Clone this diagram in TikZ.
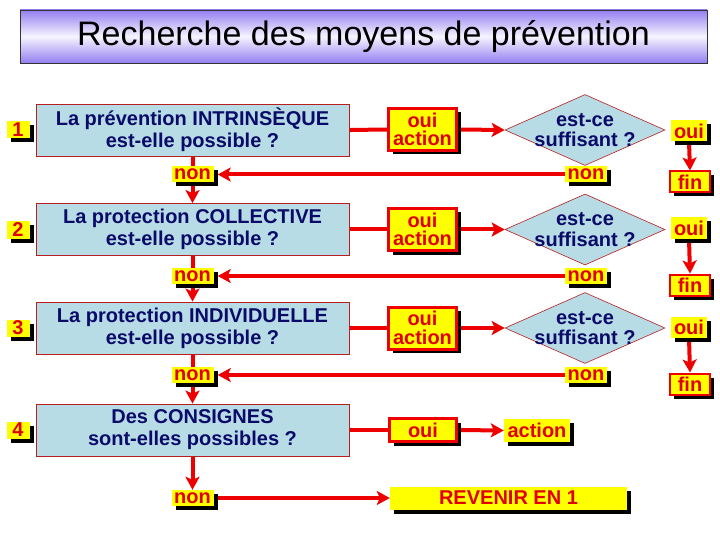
\documentclass[tikz,border=0pt]{standalone}
\usepackage{fontspec}
\setmainfont{Liberation Sans}
\usetikzlibrary{shapes.geometric,shadows,arrows.meta,backgrounds}
\definecolor{lred}{RGB}{238,0,0}
\definecolor{labred}{RGB}{225,0,0}
\definecolor{yel}{RGB}{255,255,0}
\definecolor{lblue}{RGB}{184,220,230}
\definecolor{navy}{RGB}{10,10,105}
\definecolor{boxred}{RGB}{185,30,30}
\definecolor{tpurple}{RGB}{148,126,240}
\definecolor{tlight}{RGB}{246,244,255}
\begin{document}
\begin{tikzpicture}[x=1pt,y=-1pt,
  shd/.style={drop shadow={shadow xshift=4pt,shadow yshift=-4pt,fill=black,opacity=1}},
  qbox/.style={draw=boxred, line width=0.8pt, fill=lblue, minimum width=313pt, minimum height=52pt,
    font=\fontsize{20}{22}\selectfont\bfseries, text=navy, align=center, inner sep=0pt},
  ylab/.style={shd, fill=yel, text=labred, font=\fontsize{20}{18.5}\selectfont\bfseries, inner sep=0pt, align=center},
  nonlab/.style={ylab, minimum width=42pt, minimum height=16pt},
  numlab/.style={ylab, minimum width=23pt, minimum height=17pt},
  oalab/.style={ylab, draw=lred, line width=3pt, minimum width=68pt, minimum height=42pt},
  ouilab/.style={ylab, minimum width=36pt, minimum height=21pt},
  finlab/.style={ylab, draw=lred, line width=2pt, minimum width=40pt, minimum height=21pt},
  dia/.style={diamond, draw=boxred, line width=0.6pt, fill=lblue, minimum width=160pt, minimum height=71pt, inner sep=0pt},
  diatext/.style={font=\fontsize{20}{20.5}\selectfont\bfseries, text=navy, align=center, inner sep=0pt},
  conn/.style={draw=lred, line width=4pt},
  arr/.style={conn, -{Stealth[length=13pt,width=14pt,inset=3pt]}}
]
\useasboundingbox (0,0) rectangle (720,540);

% title
\node[draw=black!80, line width=0.8pt, minimum width=687pt, minimum height=53pt,
  top color=tpurple, bottom color=tpurple, middle color=tlight,
  font=\fontsize{34}{36}\selectfont, inner sep=0pt] (title) at (363.5,36.5) {Recherche des moyens de prévention};

% numbers
\node[numlab] (num1) at (18,129.5) {1};
\node[numlab] (num2) at (18,230) {2};
\node[numlab] (num3) at (18,328) {3};
\node[numlab] (num4) at (18,430) {4};

% question boxes
\node[qbox] (b1) at (192.5,130) {La prévention INTRINSÈQUE\\est-elle possible ?};
\node[qbox] (b2) at (192.5,229.5) {La protection COLLECTIVE\\est-elle possible ?};
\node[qbox] (b3) at (192.5,328) {La protection INDIVIDUELLE\\est-elle possible ?};
\node[qbox] (b4) at (192.5,430) {Des CONSIGNES\\sont-elles possibles ?};

% oui action
\node[oalab] (oa1) at (422.5,129.5) {oui\\action};
\node[oalab] (oa2) at (422.5,229.5) {oui\\action};
\node[oalab] (oa3) at (422.5,328) {oui\\action};

% diamonds
\node[dia] (d1) at (585,130) {};
\node[diatext] (dt1) at (d1) {est-ce\\suffisant ?};
\node[dia] (d2) at (585,229.5) {};
\node[diatext] (dt2) at (d2) {est-ce\\suffisant ?};
\node[dia] (d3) at (585,328) {};
\node[diatext] (dt3) at (d3) {est-ce\\suffisant ?};

% oui / fin
\node[ouilab] (o1) at (689,131) {oui};
\node[ouilab] (o2) at (689,228) {oui};
\node[ouilab] (o3) at (689,327) {oui};
\node[finlab] (f1) at (690,182) {fin};
\node[finlab] (f2) at (690,285) {fin};
\node[finlab] (f3) at (690,384) {fin};

% non labels
\node[nonlab] (n1) at (192.5,174.5) {non};
\node[nonlab] (n2) at (192.5,276) {non};
\node[nonlab] (n3) at (192.5,375) {non};
\node[nonlab] (n4) at (192.5,498) {non};
\node[nonlab] (dn1) at (586,174.5) {non};
\node[nonlab] (dn2) at (586,276) {non};
\node[nonlab] (dn3) at (586,375) {non};

% row 4
\node[ylab, draw=lred, line width=3pt, minimum width=67pt, minimum height=23pt] (o4) at (423,430) {oui};
\node[ylab, minimum width=66pt, minimum height=23pt] (a4) at (537,430.5) {action};
\node[ylab, minimum width=237pt, minimum height=23pt] (rv) at (508.5,498) {REVENIR EN 1};

\begin{scope}[on background layer]
\foreach \i/\j in {1/2,2/3,3/4}{
  \draw[conn] (b\i.east) -- (oa\i.west);
  \draw[arr] (oa\i.east) -- (d\i.west);
  \draw[conn] (b\i.south) -- (n\i.north);
  \draw[arr] (n\i.south) -- (b\j.north);
  \draw[arr] (dn\i.west) -- ([xshift=4pt]n\i.east);
  \draw[arr] (o\i.south) -- (f\i.north);
}
\draw[conn] (b4.east) -- (o4.west);
\draw[arr] (o4.east) -- (a4.west);
\draw[arr] (b4.south) -- (n4.north);
\draw[arr] ([xshift=4pt]n4.east) -- (rv.west);
\end{scope}
\end{tikzpicture}
\end{document}
